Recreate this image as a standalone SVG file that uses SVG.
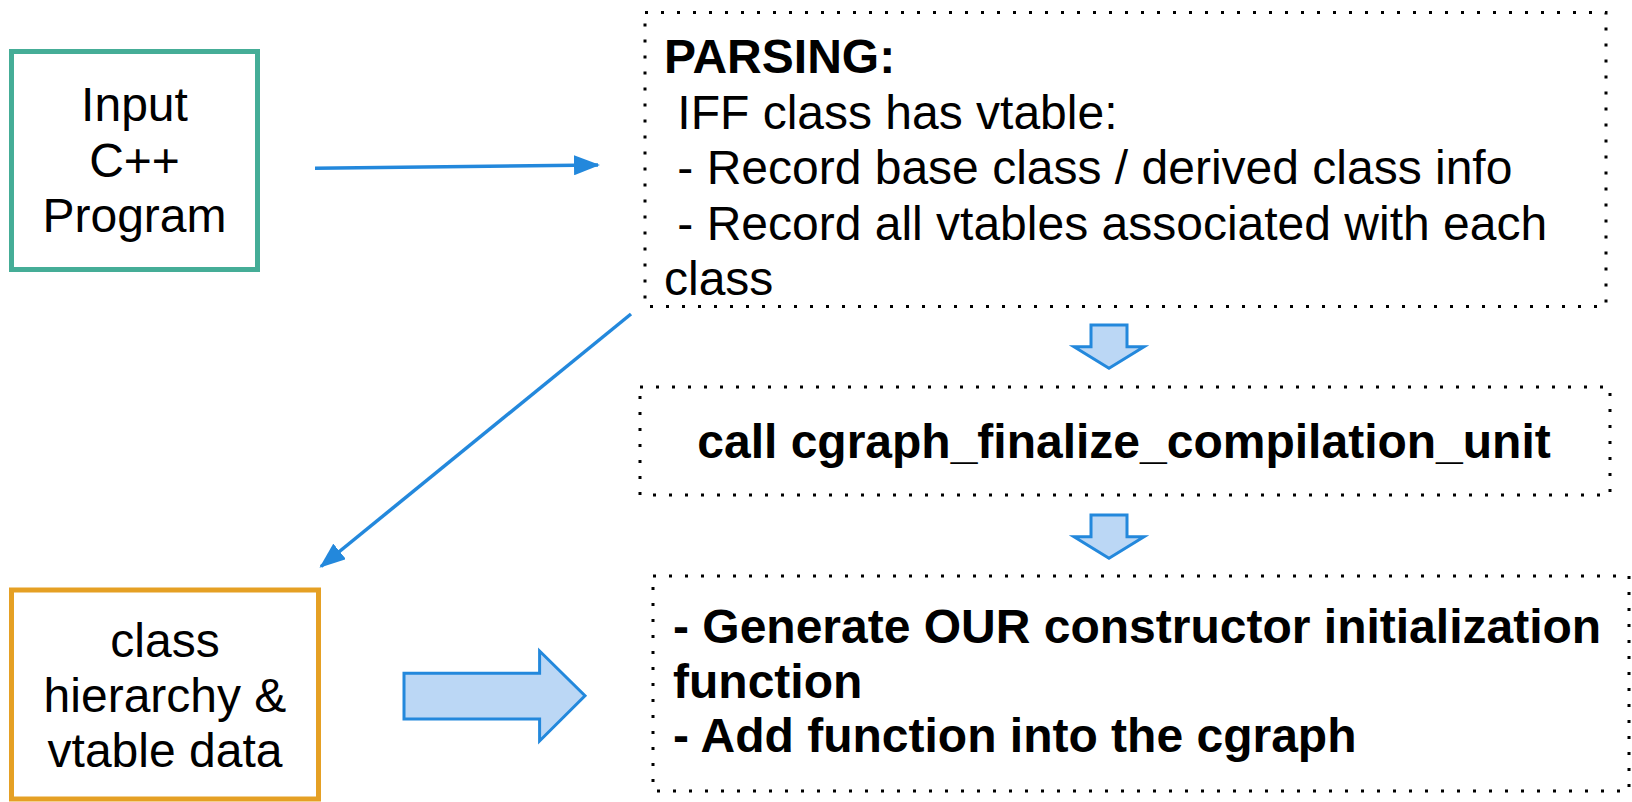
<svg xmlns="http://www.w3.org/2000/svg" width="1632" height="802" viewBox="0 0 1632 802">
<style>
text{font-family:"Liberation Sans",Arial,sans-serif;fill:#000;font-size:48px}
.b{font-weight:bold}
.dot{fill:none;stroke:#000;stroke-width:3;stroke-dasharray:3 13}
.conn{stroke:#2388DC;stroke-width:3.5;fill:none}
.fat{fill:#BBD7F5;stroke:#2388DC;stroke-width:3;stroke-linejoin:miter}
</style>
<defs>
<marker id="ah" markerUnits="userSpaceOnUse" markerWidth="26" markerHeight="20" refX="24" refY="10" orient="auto">
<path d="M0,0 L26,10 L0,20 Z" fill="#2388DC"/>
</marker>
</defs>
<g id="input">
<rect x="11.5" y="51.5" width="246" height="218" fill="#fff" stroke="#45AD97" stroke-width="5"/>
<text x="134.5" y="121" text-anchor="middle">Input</text>
<text x="134.5" y="177" text-anchor="middle">C++</text>
<text x="134.5" y="232" text-anchor="middle">Program</text>
</g>
<g id="parsing">
<rect class="dot" x="645" y="12.5" width="961" height="294"/>
<text class="b" x="664" y="73">PARSING:</text>
<text x="664" y="128.5" xml:space="preserve"> IFF class has vtable:</text>
<text x="664" y="184" xml:space="preserve"> - Record base class / derived class info</text>
<text x="664" y="239.5" xml:space="preserve"> - Record all vtables associated with each</text>
<text x="664" y="295">class</text>
</g>
<g id="finalize">
<rect class="dot" x="640" y="387" width="970" height="108"/>
<text class="b" x="1124" y="458" text-anchor="middle">call cgraph_finalize_compilation_unit</text>
</g>
<g id="generate">
<rect class="dot" x="653" y="576" width="976" height="215"/>
<text class="b" x="673" y="643.3">- Generate OUR constructor initialization</text>
<text class="b" x="673" y="697.5">function</text>
<text class="b" x="673" y="751.7">- Add function into the cgraph</text>
</g>
<g id="classdata">
<rect x="11.5" y="590" width="307" height="209" fill="#fff" stroke="#E5A024" stroke-width="5"/>
<text x="165" y="657" text-anchor="middle">class</text>
<text x="165" y="712" text-anchor="middle">hierarchy &amp;</text>
<text x="165" y="767" text-anchor="middle">vtable data</text>
</g>
<g id="connectors">
<line class="conn" x1="315" y1="168.3" x2="598" y2="165" marker-end="url(#ah)"/>
<line class="conn" x1="631" y1="314" x2="321" y2="566.5" marker-end="url(#ah)"/>
<path class="fat" d="M1091,325 H1127 V346.7 H1144 L1109,368.3 L1074,346.7 H1091 Z"/>
<path class="fat" d="M1091,515 H1127 V536.7 H1144 L1109,558.3 L1074,536.7 H1091 Z"/>
<path class="fat" d="M404,673.3 H539.6 V651 L585,695.7 L539.6,741 V719 H404 Z"/>
</g>
</svg>
